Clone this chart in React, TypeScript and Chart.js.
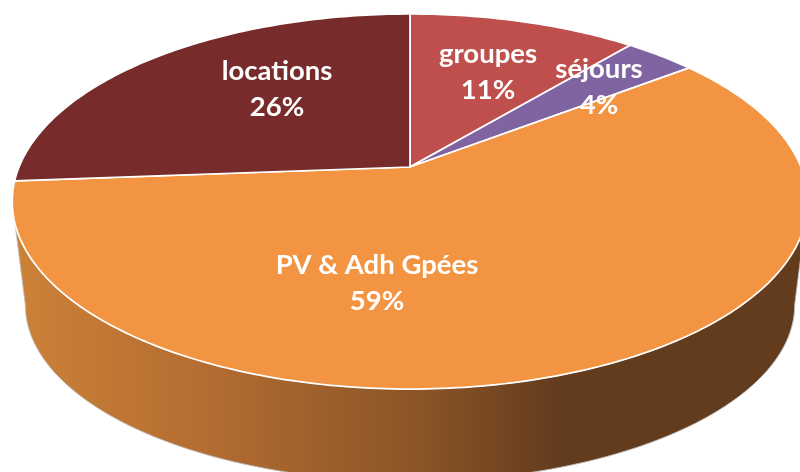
import React, { useEffect, useRef } from "react";
import { Chart, registerables } from "chart.js";

Chart.register(...registerables);

const categories = ["groupes", "séjours", "PV & Adh Gpées", "locations"];
const shares = [11.1, 3.5, 59.2, 26.2];
const shareLabels = ["11%", "4%", "59%", "26%"];
const sliceColors = ["#BE4F4C", "#8064A2", "#F39443", "#772B2B"];

// Perspective of the tilted disc
const CX = 410;
const CY = 167;
const RX = 391;
const RY = 181.2;
const TILT = -0.184;

const project = (a: number, sx = 1, sy = 1, dy = 0) => {
  const u = Math.cos(a);
  const v = Math.sin(a);
  const d = 1 + TILT * v;
  return [CX + (sx * RX * u) / d, CY + dy + (sy * RY * v) / d];
};

const labelAnchors = [
  [488, 53],
  [599, 68],
  [377, 264],
  [277, 70],
];

const discPlugin = {
  id: "disc3d",
  beforeDatasetDraw(chart: any) {
    const ctx = chart.ctx;
    const arcs = chart.getDatasetMeta(0).data;
    const edge = Math.asin(-TILT);
    const steps = 160;

    // side wall
    ctx.save();
    ctx.beginPath();
    for (let i = 0; i <= steps; i++) {
      const a = edge + ((Math.PI - 2 * edge) * i) / steps;
      const [x, y] = project(a);
      i ? ctx.lineTo(x, y) : ctx.moveTo(x, y);
    }
    for (let i = steps; i >= 0; i--) {
      const a = edge + ((Math.PI - 2 * edge) * i) / steps;
      const [x, y] = project(a, 0.967, 0.94, 105.6);
      ctx.lineTo(x, y);
    }
    ctx.closePath();
    const g = ctx.createLinearGradient(12, 0, 560, 0);
    g.addColorStop(0, "#CD8239");
    g.addColorStop(0.35, "#B46D31");
    g.addColorStop(0.75, "#8A5427");
    g.addColorStop(1, "#633B1D");
    ctx.fillStyle = g;
    ctx.fill();
    ctx.strokeStyle = "rgba(190,190,190,0.9)";
    ctx.lineWidth = 1;
    ctx.stroke();

    // top face, slices taken from the library's arc elements
    arcs.forEach((arc: any, idx: number) => {
      const { startAngle, endAngle } = arc.getProps(["startAngle", "endAngle"], true);
      ctx.beginPath();
      ctx.moveTo(CX, CY);
      const n = Math.max(8, Math.ceil((endAngle - startAngle) * 60));
      for (let i = 0; i <= n; i++) {
        const [x, y] = project(startAngle + ((endAngle - startAngle) * i) / n);
        ctx.lineTo(x, y);
      }
      ctx.closePath();
      ctx.fillStyle = sliceColors[idx];
      ctx.fill();
      ctx.strokeStyle = "#FFFFFF";
      ctx.lineWidth = 1.75;
      ctx.lineJoin = "round";
      ctx.stroke();
    });

    // labels
    ctx.fillStyle = "#FFFFFF";
    ctx.font = "bold 27.5px Lato";
    ctx.textAlign = "center";
    ctx.textBaseline = "middle";
    categories.forEach((name, i) => {
      const [x, y] = labelAnchors[i];
      ctx.fillText(name, x, y + 1);
      ctx.fillText(shareLabels[i], x, y + 37);
    });
    ctx.restore();
    return false;
  },
};

export default function App() {
  const ref = useRef<HTMLCanvasElement>(null);
  useEffect(() => {
    const chart = new Chart(ref.current!, {
      type: "pie",
      data: {
        labels: categories,
        datasets: [{ data: shares, backgroundColor: sliceColors }],
      },
      options: {
        animation: false,
        responsive: false,
        plugins: { legend: { display: false }, tooltip: { enabled: false } },
      },
      plugins: [discPlugin],
    });
    return () => chart.destroy();
  }, []);
  return (
    <div style={{ position: "fixed", left: 0, top: 0, width: 800, height: 472, overflow: "hidden", background: "#fff" }}>
      <canvas ref={ref} width={800} height={472} style={{ display: "block" }} />
    </div>
  );
}
